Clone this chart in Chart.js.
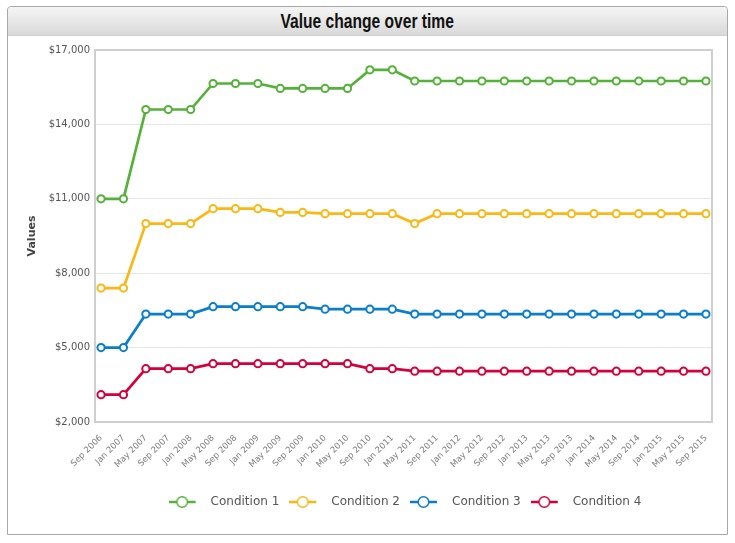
<!DOCTYPE html>
<html>
<head>
<meta charset="utf-8">
<script src="https://cdn.jsdelivr.net/npm/chart.js@4"></script>
<style>
  body { margin: 0; background: #fff; }
  .panel {
    position: absolute; left: 7px; top: 6px; width: 719px; height: 527px;
    border: 1px solid #a8a8a8; border-radius: 4px 4px 0 0; background: #fff;
  }
  .header {
    height: 28px; border-bottom: 1px solid #d0d0d0;
    background: linear-gradient(#f5f5f5, #d9d9d9);
    border-radius: 4px 4px 0 0;
    text-align: center;
    font-family: "Liberation Sans", Arial, sans-serif;
    font-weight: bold; font-size: 20px; line-height: 28px; color: #111;
  }
  .header span { display: inline-block; transform: scaleX(0.78); }
  .wrap { position: absolute; left: 0; top: 29px; width: 719px; height: 498px; }
</style>
</head>
<body>
<div class="panel">
  <div class="header"><span>Value change over time</span></div>
  <div class="wrap"><canvas id="valueChart"></canvas></div>
</div>
<script>
// *****Data***** //
const months = ['Sep 2006', 'Jan 2007', 'May 2007', 'Sep 2007', 'Jan 2008', 'May 2008', 'Sep 2008',
  'Jan 2009', 'May 2009', 'Sep 2009', 'Jan 2010', 'May 2010', 'Sep 2010', 'Jan 2011', 'May 2011',
  'Sep 2011', 'Jan 2012', 'May 2012', 'Sep 2012', 'Jan 2013', 'May 2013', 'Sep 2013', 'Jan 2014',
  'May 2014', 'Sep 2014', 'Jan 2015', 'May 2015', 'Sep 2015'];
const condition1 = [11000, 11000, 14600, 14600, 14600, 15650, 15650, 15650, 15450, 15450, 15450, 15450, 16200, 16200,
  15750, 15750, 15750, 15750, 15750, 15750, 15750, 15750, 15750, 15750, 15750, 15750, 15750, 15750];
const condition2 = [7400, 7400, 10000, 10000, 10000, 10600, 10600, 10600, 10450, 10450, 10400, 10400, 10400, 10400,
  10000, 10400, 10400, 10400, 10400, 10400, 10400, 10400, 10400, 10400, 10400, 10400, 10400, 10400];
const condition3 = [5000, 5000, 6350, 6350, 6350, 6650, 6650, 6650, 6650, 6650, 6550, 6550, 6550, 6550,
  6350, 6350, 6350, 6350, 6350, 6350, 6350, 6350, 6350, 6350, 6350, 6350, 6350, 6350];
const condition4 = [3100, 3100, 4150, 4150, 4150, 4350, 4350, 4350, 4350, 4350, 4350, 4350, 4150, 4150,
  4050, 4050, 4050, 4050, 4050, 4050, 4050, 4050, 4050, 4050, 4050, 4050, 4050, 4050];
const seriesNames = ['Condition 1', 'Condition 2', 'Condition 3', 'Condition 4'];
const seriesColors = ['rgb(84,178,56)', 'rgb(252,183,20)', 'rgb(8,126,204)', 'rgb(212,0,58)'];
const yTicks = [2000, 5000, 8000, 11000, 14000, 17000];

function toPoints(values) {
  return values.map((v, i) => ({ x: i, y: v }));
}

// line + circle icon for the legend (right part left blank as a gap)
function legendIcon(color) {
  const c = document.createElement('canvas');
  c.width = 36; c.height = 14;
  const g = c.getContext('2d');
  g.strokeStyle = color;
  g.lineWidth = 2.5;
  g.beginPath(); g.moveTo(0, 7); g.lineTo(27, 7); g.stroke();
  g.fillStyle = '#fff';
  g.lineWidth = 1.5;
  g.beginPath(); g.arc(13.5, 7, 5.3, 0, Math.PI * 2); g.fill(); g.stroke();
  return c;
}

const plotFrame = {
  id: 'plotFrame',
  beforeDatasetsDraw(chart) {
    const a = chart.chartArea, g = chart.ctx;
    g.save();
    g.strokeStyle = '#cfcfcf';
    g.lineWidth = 2;
    g.strokeRect(a.left, a.top, a.right - a.left, a.bottom - a.top);
    g.restore();
  },
  afterLayout(chart) {
    // legend sits a bit right of centre in the original
    if (chart.legend) { chart.legend.left += 36; chart.legend.right += 36; }
  }
};

const datasets = [condition1, condition2, condition3, condition4].map((vals, i) => ({
  label: seriesNames[i],
  data: toPoints(vals),
  borderColor: seriesColors[i],
  backgroundColor: '#fff',
  borderWidth: 2.7,
  pointRadius: 3.6,
  pointBorderWidth: 2,
  pointBackgroundColor: '#fff',
  pointBorderColor: seriesColors[i],
  tension: 0
}));

const ctx = document.getElementById('valueChart');
new Chart(ctx, {
  type: 'line',
  data: { datasets: datasets },
  plugins: [plotFrame],
  options: {
    responsive: true,
    maintainAspectRatio: false,
    animation: false,
    layout: { padding: { top: 14, right: 15, left: 18, bottom: 16 } },
    scales: {
      x: {
        type: 'linear',
        min: -0.27,
        max: months.length - 1 + 0.27,
        grid: { display: false },
        border: { display: false },
        afterBuildTicks(axis) {
          axis.ticks = months.map((m, i) => ({ value: i }));
        },
        afterFit(axis) { axis.height = 64; },
        ticks: {
          autoSkip: false,
          maxRotation: 45,
          minRotation: 45,
          padding: 3,
          color: '#7c7c7c',
          font: { family: 'DejaVu Sans', size: 8.5 },
          callback: (v) => months[v]
        }
      },
      y: {
        min: 2000,
        max: 17000,
        afterBuildTicks(axis) {
          axis.ticks = yTicks.map(v => ({ value: v }));
        },
        afterFit(axis) { axis.width = 69; },
        grid: { color: '#e6e6e6', lineWidth: 1, drawTicks: false },
        border: { display: false },
        title: {
          display: true,
          text: 'Values',
          color: '#444',
          font: { family: 'DejaVu Sans', size: 11, weight: 'bold' },
          padding: { top: 0, bottom: 0 }
        },
        ticks: {
          padding: 5,
          color: '#555',
          font: { family: 'DejaVu Sans', size: 10 },
          callback: (v) => '$' + v.toLocaleString('en-US')
        }
      }
    },
    plugins: {
      title: { display: false },
      tooltip: { enabled: false },
      legend: {
        position: 'bottom',
        labels: {
          usePointStyle: true,
          pointStyleWidth: 36,
          boxHeight: 14,
          padding: 10,
          color: '#555',
          font: { family: 'DejaVu Sans', size: 12 },
          generateLabels(chart) {
            return chart.data.datasets.map((d, i) => ({
              text: d.label,
              pointStyle: legendIcon(seriesColors[i]),
              fontColor: '#555',
              strokeStyle: 'transparent',
              fillStyle: 'transparent',
              lineWidth: 0,
              datasetIndex: i,
              hidden: false
            }));
          }
        }
      }
    }
  }
});
</script>
</body>
</html>
